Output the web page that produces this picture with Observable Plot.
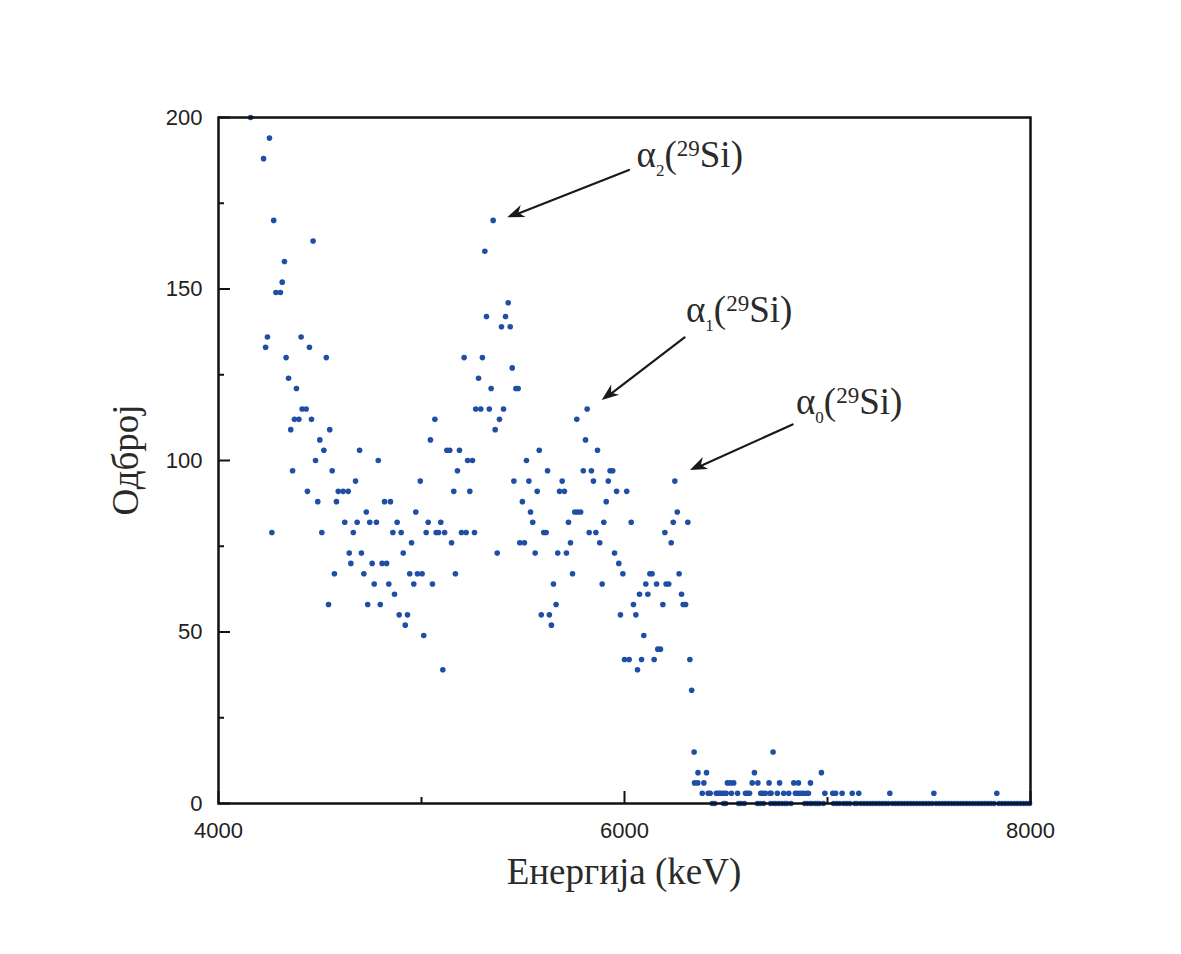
<!DOCTYPE html>
<html>
<head>
<meta charset="utf-8">
<script src="https://cdn.jsdelivr.net/npm/d3@7"></script>
<script src="https://cdn.jsdelivr.net/npm/@observablehq/plot@0.6"></script>
<style>
  html, body { margin: 0; padding: 0; background: #fff; }
</style>
</head>
<body>
<div id="chart"></div>
<script>
// ---- data ----
const energy = [4158,4222,4232,4241,4251,4263,4272,4283,4305,4314,4325,4333,4345,4356,4365,4374,4384,4396,4407,4412,4432,4438,4448,4458,4466,4478,4489,4499,4509,4519,4531,4542,4548,4560,4571,4581,4590,4614,4622,4639,4644,4652,4664,4675,4683,4695,4704,4716,4728,4735,4745,4757,4767,4778,4787,4797,4806,4818,4828,4839,4847,4859,4867,4880,4890,4900,4910,4920,4931,4942,4951,4962,4972,4980,4994,5003,5011,5023,5033,5044,5054,5066,5072,5084,5095,5105,5114,5125,5139,5148,5159,5167,5177,5187,5197,5210,5220,5227,5238,5251,5261,5267,5281,5292,5300,5312,5320,5334,5343,5353,5363,5373,5384,5394,5404,5414,5427,5437,5447,5455,5465,5476,5484,5497,5507,5517,5529,5537,5548,5560,5570,5580,5590,5602,5614,5621,5630,5640,5650,5663,5671,5680,5693,5704,5714,5724,5734,5744,5755,5765,5769,5784,5797,5808,5816,5826,5837,5847,5859,5867,5878,5890,5898,5910,5920,5929,5942,5951,5961,5972,5980,5992,6000,6011,6023,6033,6044,6056,6064,6074,6084,6095,6105,6115,6125,6136,6146,6158,6164,6177,6189,6199,6205,6218,6230,6240,6248,6260,6269,6281,6289,6301,6312,6322,6331,6343,6345,6361,6362,6383,6391,6404,6412,6422,6452,6461,6471,6481,6491,6501,6507,6522,6527,6538,6557,6596,6606,6616,6629,6640,6657,6671,6681,6694,6712,6717,6722,6732,6753,6764,6784,6809,6834,6842,6855,6857,6868,6880,6896,6906,6916,6970,6987,7026,7040,7072,7122,7154,7307,7524,7834];
const counts = [200,188,133,136,194,79,170,149,149,152,158,130,124,109,97,112,121,112,136,115,115,91,133,112,164,100,88,106,79,103,130,58,109,97,67,88,91,91,82,91,73,70,79,94,82,103,73,67,85,58,82,70,64,82,100,58,70,88,70,64,88,79,61,82,55,79,73,52,55,67,76,64,85,67,94,67,49,79,82,106,64,112,79,79,82,39,79,103,103,76,91,67,97,103,79,130,79,100,91,100,79,115,124,115,130,161,142,115,121,170,109,73,112,139,115,142,146,139,127,94,121,121,76,88,76,100,94,85,82,73,91,103,55,79,79,97,55,52,64,58,73,91,94,91,73,82,76,67,85,112,85,85,97,106,115,79,97,94,79,103,76,64,82,88,94,97,97,73,91,70,55,67,42,91,42,82,58,55,39,61,42,49,64,61,67,67,42,64,45,45,58,79,64,64,76,82,94,85,67,61,58,58,82,42,33,15,6,6,9,3,6,9,3,3,3,3,3,3,3,3,6,6,3,6,3,3,3,3,6,9,6,3,3,3,6,3,3,15,3,6,3,3,6,3,3,6,3,3,3,3,6,9,3,3,3,3,3,3,3,3,3];
const zeroEnergy = [6432,6444,6488,6498,6562,6574,6590,6655,6668,6685,6720,6735,6745,6760,6775,6790,6800,6820,6888,6900,6915,6925,6940,6950,6960,6980,7030,7045,7060,7080,7095,7110,7135,7145,7165,7180,7195,7210,7225,7240,7255,7270,7285,7300,7320,7335,7350,7365,7380,7395,7410,7425,7440,7455,7470,7485,7500,7515,7535,7550,7565,7580,7595,7610,7625,7640,7655,7670,7685,7700,7715,7730,7745,7760,7775,7790,7805,7820,7845,7860,7875,7890,7905,7920,7935,7950,7965,7980,7995];

const xMajor = [4000, 6000, 8000];
const xMinor = [5000, 7000];
const yMajor = [0, 50, 100, 150, 200];
const yMinor = [25, 75, 125, 175];

// annotations: subscript, text anchor (energy, count), arrow tail and head
const annSub = ["2", "1", "0"];
const annTextE = [6062, 6305, 6847];
const annTextC = [185.4, 140.2, 113.4];
const arrowE1 = [6022, 6296, 6828];
const arrowC1 = [184.7, 135.9, 110.5];
const arrowE2 = [5425, 5890, 6325];
const arrowC2 = [170.8, 117.5, 97.1];

const xTitle = "Енергија (keV)";
const yTitle = "Одброј";

// ---- build tables ----
const points = energy.map((e, i) => ({e, c: counts[i]}))
  .concat(zeroEnergy.map(e => ({e, c: 0})));
const arrows = annSub.map((s, i) => ({x1: arrowE1[i], y1: arrowC1[i], x2: arrowE2[i], y2: arrowC2[i]}));

const W = 1181, H = 954;
const mL = 218, mR = 151, mT = 117, mB = 151;
const innerW = W - mL - mR, innerH = H - mT - mB;

const chart = Plot.plot({
  width: W,
  height: H,
  marginLeft: mL,
  marginRight: mR,
  marginTop: mT,
  marginBottom: mB,
  style: {fontFamily: "'Liberation Sans', Arial, sans-serif", fontSize: "22px", color: "#222", background: "#fff"},
  x: {domain: [4000, 8000]},
  y: {domain: [0, 200]},
  marks: [
    Plot.dot(points, {x: "e", y: "c", r: 2.8, fill: "#1f4ea5", stroke: "none"}),
    Plot.frame({stroke: "#111", strokeWidth: 2.5}),
    Plot.tickY(yMajor, {y: d => d, insetRight: innerW - 12, stroke: "#111", strokeWidth: 2}),
    Plot.tickY(yMinor, {y: d => d, insetRight: innerW - 6, stroke: "#111", strokeWidth: 2}),
    Plot.tickX(xMajor, {x: d => d, insetTop: innerH - 12, stroke: "#111", strokeWidth: 2}),
    Plot.tickX(xMinor, {x: d => d, insetTop: innerH - 6, stroke: "#111", strokeWidth: 2}),
    Plot.axisY(yMajor, {tickSize: 0, tickPadding: 16, label: null, tickFormat: d => String(d)}),
    Plot.axisX(xMajor, {tickSize: 0, tickPadding: 19, label: null, tickFormat: d => String(d)}),
    Plot.arrow(arrows, {x1: "x1", y1: "y1", x2: "x2", y2: "y2", stroke: "#1a1a1a", strokeWidth: 2.2, headLength: 0, insetEnd: 8})
  ]
});

document.getElementById("chart").appendChild(chart);

const svg = d3.select(chart);
const xs = chart.scale("x"), ys = chart.scale("y");
const serif = "'Liberation Serif', 'DejaVu Serif', serif";

// filled arrow heads at the arrow ends, positioned with the plot's scales
arrows.forEach(a => {
  const x1 = xs.apply(a.x1), y1 = ys.apply(a.y1);
  const x2 = xs.apply(a.x2), y2 = ys.apply(a.y2);
  const ang = Math.atan2(y2 - y1, x2 - x1);
  const L = 17, Wd = 6.5;
  const bx = x2 - L * Math.cos(ang), by = y2 - L * Math.sin(ang);
  const nx = -Math.sin(ang), ny = Math.cos(ang);
  const nbx = x2 - 0.7 * L * Math.cos(ang), nby = y2 - 0.7 * L * Math.sin(ang);
  svg.append("path")
    .attr("d", `M${x2},${y2}L${bx + nx * Wd},${by + ny * Wd}L${nbx},${nby}L${bx - nx * Wd},${by - ny * Wd}Z`)
    .attr("fill", "#1a1a1a");
});

// axis titles
svg.append("text")
  .attr("x", (xs.apply(4000) + xs.apply(8000)) / 2)
  .attr("y", ys.apply(0) + 81)
  .attr("text-anchor", "middle")
  .attr("font-family", serif)
  .attr("font-size", 37)
  .attr("fill", "#2a2a2a")
  .text(xTitle);

svg.append("text")
  .attr("transform", `translate(${xs.apply(4000) - 80},${(ys.apply(0) + ys.apply(200)) / 2}) rotate(-90)`)
  .attr("text-anchor", "middle")
  .attr("font-family", serif)
  .attr("font-size", 37)
  .attr("fill", "#2a2a2a")
  .text(yTitle);

// annotations
annSub.forEach((s, i) => {
  const t = svg.append("text")
    .attr("x", xs.apply(annTextE[i]))
    .attr("y", ys.apply(annTextC[i]))
    .attr("text-anchor", "start")
    .attr("font-family", serif)
    .attr("font-size", 37)
    .attr("fill", "#2a2a2a");
  t.append("tspan").text("α");
  t.append("tspan").attr("font-size", 17).attr("dy", 9).text(s);
  t.append("tspan").attr("dy", -9).text("(");
  t.append("tspan").attr("font-size", 23).attr("dy", -11).text("29");
  t.append("tspan").attr("dy", 11).text("Si)");
});
</script>
</body>
</html>
